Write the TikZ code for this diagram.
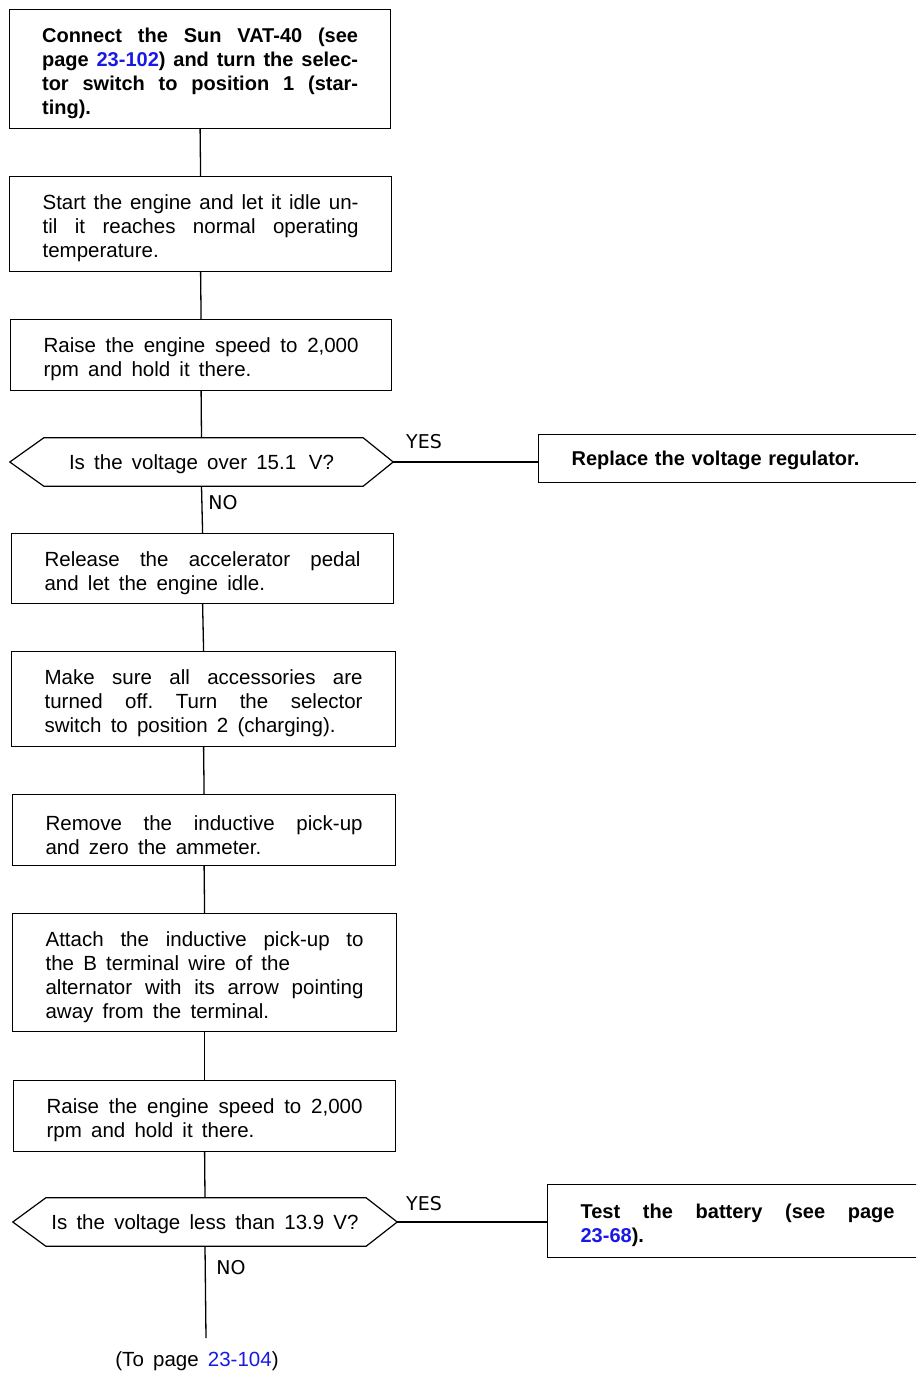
\documentclass[tikz,border=0pt]{standalone}
\usepackage{fontspec}
\setmainfont{Liberation Sans}
\newfontfamily\bodyfont{Liberation Sans}
\newfontfamily\labfont{DejaVu Sans}
\definecolor{linkblue}{RGB}{25,25,230}
\newcommand{\lnk}[1]{\textcolor{linkblue}{#1}}
\newcommand{\bodysize}{\bodyfont\fontsize{20.5}{24}\selectfont\frenchspacing\spaceskip=0.45em plus 0.3em minus 0.1em\relax}
\begin{document}
\begin{tikzpicture}[x=1pt,y=-1pt,
  ln/.style={line width=1.2pt, line cap=rect},
  box/.style={draw, ln, anchor=north west, inner xsep=33pt, inner ysep=0pt, align=justify,
    font=\bodysize, execute at begin node={\rule{0pt}{24pt}}},
  bbox/.style={draw, ln, anchor=north west, inner xsep=32pt, inner ysep=0pt, align=justify,
    font=\bfseries\fontsize{20}{24}\selectfont\frenchspacing, execute at begin node={\rule{0pt}{23.5pt}}},
  dec/.style={inner sep=0pt, minimum height=48pt, text height=14.5pt, text depth=0pt,
    font=\bodysize},
  lab/.style={inner sep=0pt, font=\labfont\fontsize{19}{22}\selectfont},
  conn/.style={line width=1.3pt}]
\useasboundingbox (0,0) rectangle (916,1373);
\clip (0,0) rectangle (916,1373);

% boxes
\node[bbox, minimum width=381pt, minimum height=119pt, text width=316pt] (b1) at (9,9)
  {Connect the Sun VAT-40 (see\linebreak page \lnk{23-102}) and turn the selec-\linebreak tor switch to position 1 (star-\linebreak ting).};
\node[box, minimum width=382pt, minimum height=95pt, text width=316pt] (b2) at (9,176)
  {Start the engine and let it idle un-\linebreak til it reaches normal operating\linebreak temperature.};
\node[box, minimum width=381pt, minimum height=71pt, text width=315pt] (b3) at (10,319)
  {Raise the engine speed to 2,000\linebreak rpm and hold it there.};
\node[dec, minimum width=383pt] (d1) at (201.5,462) {Is the voltage over 15.1\, V?};
\node[box, minimum width=382pt, minimum height=70pt, text width=316pt] (b5) at (11,533)
  {Release the accelerator pedal\linebreak and let the engine idle.};
\node[box, minimum width=384pt, minimum height=95pt, text width=318pt] (b6) at (11,651)
  {Make sure all accessories are\linebreak turned off. Turn the selector\linebreak switch to position 2 (charging).};
\node[box, minimum width=383pt, minimum height=71pt, text width=317pt] (b7) at (12,794)
  {Remove the inductive pick-up\linebreak and zero the ammeter.};
\node[box, minimum width=384pt, minimum height=118pt, text width=318pt] (b8) at (12,913)
  {Attach the inductive pick-up to\linebreak the B terminal wire of the\newline alternator with its arrow pointing\linebreak away from the terminal.};
\node[box, minimum width=382pt, minimum height=71pt, text width=316pt] (b9) at (13,1080)
  {Raise the engine speed to 2,000\linebreak rpm and hold it there.};
\node[dec, minimum width=384pt] (d2) at (205,1222) {Is the voltage less than 13.9 V?};

% right-hand boxes (open to the right edge)
\node[draw, ln, anchor=north west, inner xsep=32pt, inner ysep=0pt, text height=14.5pt, text depth=0pt,
  font=\bfseries\fontsize{20}{24}\selectfont, minimum width=394pt, minimum height=48pt,
  text width=328pt, align=left] (r1) at (538,434)
  {Replace the voltage regulator.};
\node[bbox, minimum width=380pt, minimum height=73pt, text width=314pt] (r2) at (547,1184)
  {Test the battery (see page\linebreak \lnk{23-68}).};

% decision outlines
\draw[ln] (d1.west) -- ([xshift=34pt]d1.north west) -- ([xshift=-30pt]d1.north east)
  -- (d1.east) -- ([xshift=-30pt]d1.south east) -- ([xshift=34pt]d1.south west) -- cycle;
\draw[ln] (d2.west) -- ([xshift=33pt]d2.north west) -- ([xshift=-31pt]d2.north east)
  -- (d2.east) -- ([xshift=-31pt]d2.south east) -- ([xshift=33pt]d2.south west) -- cycle;

% connectors
\draw[conn] (b1.south) -- (b2.north);
\draw[conn] (b2.south) -- (b3.north);
\draw[conn] (b3.south) -- (d1.north);
\draw[conn] (d1.south) -- (b5.north);
\draw[conn] (b5.south) -- (b6.north);
\draw[conn] (b6.south) -- (b7.north);
\draw[conn] (b7.south) -- (b8.north);
\draw[conn] (b8.south) -- (b9.north);
\draw[conn] (b9.south) -- (d2.north);
\draw[conn] (d1.east) -- (d1.east -| r1.west);
\draw[conn] (d2.east) -- (d2.east -| r2.west);
\coordinate (end) at (206,1338);
\draw[conn] (d2.south) -- (end);

% labels
\node[lab] (y1) at (424,442) {YES};
\node[lab] (n1) at (223,503) {NO};
\node[lab] (y2) at (424,1204) {YES};
\node[lab] (n2) at (231,1268) {NO};
\node[inner sep=0pt, font=\bodysize] (to) at (197,1361)
  {(To page \lnk{23-104})};
\end{tikzpicture}
\end{document}
